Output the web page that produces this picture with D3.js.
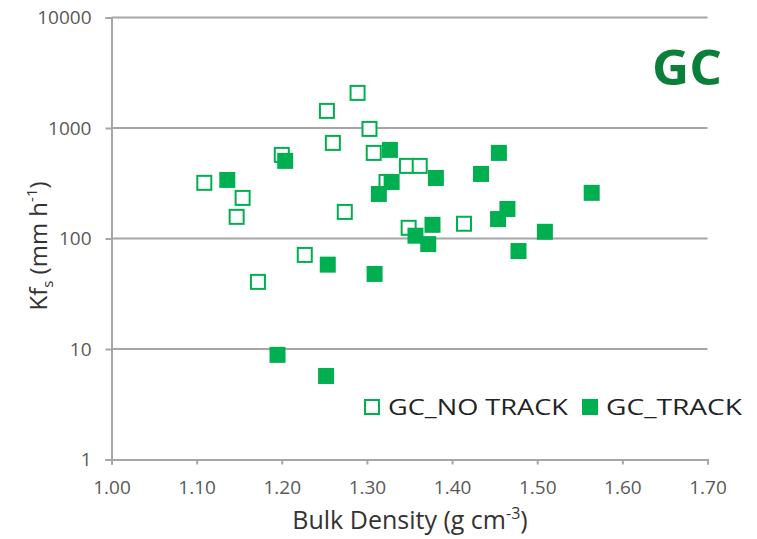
<!DOCTYPE html>
<html><head><meta charset="utf-8">
<script src="https://cdn.jsdelivr.net/npm/d3@7"></script>
<style>body{margin:0;background:#fff}svg{display:block}</style>
</head><body>
<svg id="c" width="757" height="539"></svg>
<script>
const noTrackX = [1.109,1.147,1.154,1.172,1.200,1.227,1.253,1.260,1.274,1.289,1.303,1.308,1.323,1.347,1.362,1.349,1.414];
const noTrackY = [319,157,233,40.5,571,71,1428,733,174,2078,981,595,325,454,454,125,136];
const trackX = [1.136,1.204,1.327,1.329,1.314,1.381,1.455,1.434,1.564,1.465,1.454,1.377,1.357,1.372,1.509,1.478,1.254,1.309,1.195,1.252];
const trackY = [339,504,634,325,253,353,595,384,259,185,150,133,106,89,115,77,58,47.8,8.85,5.7];
const xTicks = [1.0,1.1,1.2,1.3,1.4,1.5,1.6,1.7];
const yTicks = [1,10,100,1000,10000];
const seriesNames = ["GC_NO TRACK","GC_TRACK"];

const green = "#00b050", grid = "#a6a6a6", txt = "#595959";
const svg = d3.select("#c");
const x = d3.scaleLinear().domain([1.0,1.7]).range([111.5,707.5]);
const y = d3.scaleLog().domain([1,10000]).range([459.5,17.5]);
const font = "'Open Sans', sans-serif";

// gridlines
svg.append("g").selectAll("line").data(yTicks.slice(1)).join("line")
  .attr("x1",x(1.0)).attr("x2",x(1.7)).attr("y1",d=>y(d)).attr("y2",d=>y(d))
  .attr("stroke",grid).attr("stroke-width",2);

// axes
const xAxis = svg.append("g").attr("transform",`translate(0,${y(1)})`)
  .call(d3.axisBottom(x).tickValues(xTicks).tickFormat(d3.format(".2f")).tickSize(5).tickPadding(16));
const yAxis = svg.append("g").attr("transform",`translate(${x(1.0)},0)`)
  .call(d3.axisLeft(y).tickValues(yTicks).tickFormat(d3.format("d")).tickSize(6).tickPadding(14));
[xAxis,yAxis].forEach(a=>{
  a.select(".domain").attr("stroke",grid).attr("stroke-width",2);
  a.selectAll(".tick line").attr("stroke",grid).attr("stroke-width",2);
  a.selectAll(".tick text").attr("fill",txt).attr("font-family",font).attr("font-size",19);
});

// points
const s1 = 14, s2 = 16;
svg.append("g").selectAll("rect").data(noTrackX.map((v,i)=>[v,noTrackY[i]])).join("rect")
  .attr("x",d=>x(d[0])-s1/2).attr("y",d=>y(d[1])-s1/2).attr("width",s1).attr("height",s1)
  .attr("fill","#fff").attr("stroke",green).attr("stroke-width",2);
svg.append("g").selectAll("rect").data(trackX.map((v,i)=>[v,trackY[i]])).join("rect")
  .attr("x",d=>x(d[0])-s2/2).attr("y",d=>y(d[1])-s2/2).attr("width",s2).attr("height",s2)
  .attr("fill",green);

// title
svg.append("text").attr("x",722).attr("y",85).attr("text-anchor","end")
  .attr("font-family",font).attr("font-weight","bold").attr("font-size",49)
  .attr("fill","#0a7f3a").attr("textLength",70).attr("lengthAdjust","spacingAndGlyphs").text("GC");

// legend
svg.append("rect").attr("x",365).attr("y",400).attr("width",14).attr("height",14)
  .attr("fill","#fff").attr("stroke",green).attr("stroke-width",2);
svg.append("text").attr("x",388).attr("y",415).attr("font-family",font).attr("font-size",22)
  .attr("fill","#222").attr("textLength",180).attr("lengthAdjust","spacingAndGlyphs").text(seriesNames[0]);
svg.append("rect").attr("x",582).attr("y",399).attr("width",16).attr("height",16).attr("fill",green);
svg.append("text").attr("x",606).attr("y",415).attr("font-family",font).attr("font-size",22)
  .attr("fill","#222").attr("textLength",136).attr("lengthAdjust","spacingAndGlyphs").text(seriesNames[1]);

// x title
const xt = svg.append("text").attr("x",410).attr("y",529).attr("text-anchor","middle")
  .attr("font-family",font).attr("font-size",25).attr("fill","#333");
xt.append("tspan").text("Bulk Density (g cm");
xt.append("tspan").attr("font-size",16).attr("dy",-10).text("-3");
xt.append("tspan").attr("dy",10).text(")");

// y title
const yt = svg.append("text").attr("transform","translate(47,246) rotate(-90)").attr("text-anchor","middle")
  .attr("font-family",font).attr("font-size",24).attr("fill","#333");
yt.append("tspan").text("Kf");
yt.append("tspan").attr("font-size",15).attr("dy",6).text("s");
yt.append("tspan").attr("dy",-6).text(" (mm h");
yt.append("tspan").attr("font-size",15).attr("dy",-10).text("-1");
yt.append("tspan").attr("dy",10).text(")");
</script>
</body></html>
